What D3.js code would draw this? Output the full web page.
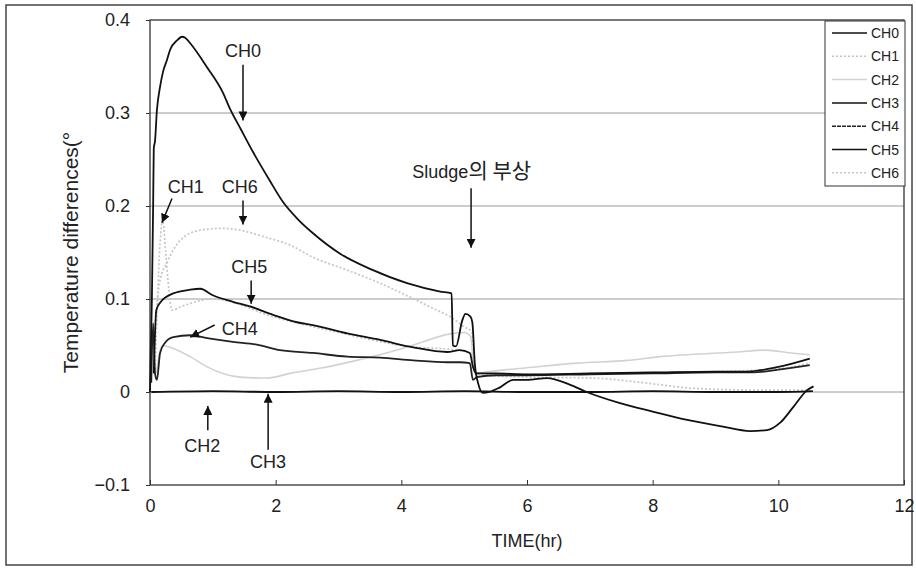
<!DOCTYPE html>
<html>
<head>
<meta charset="utf-8">
<script src="https://cdn.jsdelivr.net/npm/d3@7"></script>
<style>
  body { margin: 0; background: #fff; }
  text { font-family: "Liberation Sans", Arial, sans-serif; fill: #222; }
</style>
</head>
<body>
<div id="chart"></div>
<script>
// Channel names (legend order)
const channels = ["CH0", "CH1", "CH2", "CH3", "CH4", "CH5", "CH6"];

// Series values: [time (hr), temperature difference]
const ch0 = [[0,0],[0.03,0.1],[0.05,0.2],[0.06,0.262],[0.08,0.27],[0.11,0.303],[0.16,0.328],[0.21,0.345],[0.27,0.357],
  [0.32,0.368],[0.43,0.378],[0.51,0.382],[0.56,0.381],[0.64,0.375],[0.91,0.349],[1.16,0.322],[1.27,0.305],
  [1.45,0.282],[1.64,0.258],[1.9,0.228],[2.12,0.204],[2.35,0.186],[2.59,0.171],[3.02,0.149],[3.55,0.131],
  [4.09,0.117],[4.62,0.108],[4.8,0.106],
  [4.82,0.05],[4.87,0.049],[4.97,0.077],[5.02,0.084],[5.1,0.081],[5.13,0.075],[5.17,0.03],[5.22,0.01],
  [5.3,-0.001],[5.4,0],[5.57,0.005],[5.78,0.013],[6.0,0.013],[6.32,0.015],[6.68,0.008],[6.95,0],
  [7.48,-0.012],[8.0,-0.021],[8.55,-0.03],[9.1,-0.037],[9.55,-0.042],[9.82,-0.041],[10.03,-0.033],
  [10.24,-0.016],[10.46,0.002],[10.56,0.006]];
const ch1 = [[0.08,0.02],[0.12,0.1],[0.16,0.16],[0.2,0.185],[0.25,0.15],[0.3,0.11],[0.35,0.088],[0.5,0.092],
  [1.0,0.1],[2.0,0.08],[3.0,0.064],[4.0,0.05],[5.0,0.044],[5.12,0.04],[5.17,0.02],[6,0.019],[7,0.02],
  [8,0.021],[9,0.022],[10,0.025],[10.5,0.031]];
const ch2 = [[0.1,0.02],[0.2,0.05],[0.4,0.046],[0.64,0.038],[0.91,0.027],[1.43,0.016],[1.86,0.015],[2.23,0.02],
  [2.75,0.026],[3.29,0.034],[3.82,0.043],[4.35,0.054],[4.73,0.062],[5.0,0.064],[5.1,0.06],[5.17,0.02],
  [5.4,0.022],[6.0,0.026],[6.8,0.031],[7.59,0.034],[8.12,0.038],[9.34,0.043],[9.8,0.045],[10.2,0.042],[10.5,0.04]];
const ch3 = [[0.02,0],[1,0.001],[2,0],[3,0.001],[4,0],[5,0.001],[6,0],[7,0],[8,0.001],[9,0],[10,0],[10.55,0.001]];
const ch4 = [[0.02,0.01],[0.05,0.074],[0.08,0.02],[0.11,0.013],[0.16,0.042],[0.24,0.053],[0.37,0.059],[0.64,0.061],
  [0.91,0.058],[1.32,0.054],[1.7,0.051],[2.07,0.045],[2.59,0.042],[3.14,0.038],[3.66,0.037],[4.19,0.034],
  [4.73,0.032],[4.93,0.032],[5.09,0.031],[5.14,0.013],[5.2,0.016],[5.5,0.018],[6,0.018],[7,0.019],
  [8,0.02],[9,0.021],[9.6,0.021],[10,0.024],[10.5,0.029]];
const ch5 = [[0.06,0.02],[0.1,0.088],[0.16,0.096],[0.37,0.106],[0.64,0.11],[0.8,0.111],[1.0,0.104],[1.32,0.097],
  [1.59,0.092],[1.96,0.083],[2.34,0.075],[2.59,0.072],[3.14,0.063],[3.66,0.056],[4.19,0.048],[4.73,0.043],
  [4.93,0.045],[5.09,0.042],[5.14,0.027],[5.2,0.02],[5.5,0.02],[6,0.019],[7,0.02],[8,0.021],[9,0.022],
  [9.5,0.022],[10,0.027],[10.5,0.036]];
const ch6 = [[0.08,0.05],[0.12,0.1],[0.16,0.12],[0.27,0.139],[0.48,0.163],[0.8,0.174],[1.16,0.176],[1.43,0.174],
  [1.86,0.166],[2.23,0.158],[2.59,0.145],[3.14,0.131],[3.66,0.117],[4.14,0.102],[4.5,0.09],[4.8,0.08],
  [5.0,0.07],[5.12,0.065],[5.18,0.02],[5.3,0.018],[6.0,0.016],[7.05,0.015],[7.85,0.01],[8.64,0.004],
  [9.7,0.002],[10.5,0.002]];
const seriesValues = [ch0, ch1, ch2, ch3, ch4, ch5, ch6];

// Tick labels
const xTicks = [0, 2, 4, 6, 8, 10, 12];
const yTicks = [-0.1, 0, 0.1, 0.2, 0.3, 0.4];

// Annotation labels: [text, label x, label y, arrow from x, from y, to x, to y] in data units
const notes = [
  ["CH0", 1.48, 0.360, 1.48, 0.352, 1.48, 0.292],
  ["CH1", 0.57, 0.214, 0.35, 0.208, 0.19, 0.182],
  ["CH6", 1.43, 0.214, 1.48, 0.206, 1.48, 0.180],
  ["CH5", 1.58, 0.128, 1.61, 0.120, 1.61, 0.095],
  ["CH4", 1.43, 0.061, 1.03, 0.072, 0.64, 0.059],
  ["CH2", 0.83, -0.065, 0.92, -0.041, 0.92, -0.015],
  ["CH3", 1.88, -0.082, 1.88, -0.062, 1.88, -0.002]
];

// Styles per channel
const lineColor = {CH0: "#111", CH1: "#c4c4c4", CH2: "#d2d2d2", CH3: "#111", CH4: "#222", CH5: "#111", CH6: "#c8c8c8"};
const lineWidth = {CH0: 1.8, CH1: 1.6, CH2: 1.6, CH3: 1.8, CH4: 1.8, CH5: 1.8, CH6: 1.8};
const lineDash = {CH1: "2,2", CH6: "2,2"};

const width = 916, height = 568;
const marginTop = 20, marginRight = 12, marginBottom = 83, marginLeft = 150;

const x = d3.scaleLinear().domain([0, 12]).range([marginLeft, width - marginRight]);
const y = d3.scaleLinear().domain([-0.1, 0.4]).range([height - marginBottom, marginTop]);

const svg = d3.select("#chart").append("svg")
    .attr("width", width)
    .attr("height", height)
    .attr("viewBox", [0, 0, width, height]);

// arrow head
svg.append("defs").append("marker")
    .attr("id", "arrow")
    .attr("viewBox", "0 0 10 10")
    .attr("refX", 10).attr("refY", 5)
    .attr("markerWidth", 9).attr("markerHeight", 9)
    .attr("markerUnits", "userSpaceOnUse")
    .attr("orient", "auto")
  .append("path")
    .attr("d", "M0,0L10,5L0,10z")
    .attr("fill", "#111");

// outer frame
svg.append("rect")
    .attr("x", 6).attr("y", 5)
    .attr("width", width - 10).attr("height", height - 8)
    .attr("fill", "none").attr("stroke", "#444").attr("stroke-width", 1.5);

// gridlines
svg.append("g")
  .selectAll("line")
  .data(yTicks.filter(d => d > -0.1 && d < 0.4))
  .join("line")
    .attr("x1", x(0)).attr("x2", x(12))
    .attr("y1", d => y(d)).attr("y2", d => y(d))
    .attr("stroke", "#9a9a9a").attr("stroke-width", 1);

// plot frame
svg.append("rect")
    .attr("x", x(0)).attr("y", y(0.4))
    .attr("width", x(12) - x(0)).attr("height", y(-0.1) - y(0.4))
    .attr("fill", "none").attr("stroke", "#222").attr("stroke-width", 1.2);

// x axis (ticks inside, labels below)
svg.append("g")
    .attr("transform", `translate(0,${y(-0.1)})`)
    .call(d3.axisBottom(x).tickValues(xTicks).tickSizeInner(-5).tickSizeOuter(0).tickPadding(14).tickFormat(d3.format("d")))
    .call(g => g.select(".domain").remove())
    .call(g => g.selectAll(".tick line").attr("stroke", "#333"))
    .selectAll("text")
      .style("font-size", "18px")
      .style("font-family", "Liberation Sans, Arial, sans-serif")
      .attr("fill", "#222");

// y axis
svg.append("g")
    .attr("transform", `translate(${x(0)},0)`)
    .call(d3.axisLeft(y).tickValues(yTicks).tickSize(4).tickPadding(16)
      .tickFormat(d => d === 0 ? "0" : (d < 0 ? "\u2212" + Math.abs(d) : String(d))))
    .call(g => g.select(".domain").remove())
    .call(g => g.selectAll(".tick line").attr("stroke", "#333"))
    .selectAll("text")
      .style("font-size", "18px")
      .style("font-family", "Liberation Sans, Arial, sans-serif")
      .attr("fill", "#222");

// axis titles
svg.append("text")
    .attr("x", (x(0) + x(12)) / 2)
    .attr("y", 547)
    .attr("text-anchor", "middle")
    .style("font-size", "18px")
    .text("TIME(hr)");

svg.append("text")
    .attr("transform", `translate(78,${(y(0.4) + y(-0.1)) / 2}) rotate(-90)`)
    .attr("text-anchor", "middle")
    .style("font-size", "21px")
    .text("Temperature differences(\u00b0");

// series
const line = d3.line()
    .curve(d3.curveMonotoneX)
    .x(d => x(d[0]))
    .y(d => y(d[1]));

const plotOrder = ["CH2", "CH6", "CH1", "CH3", "CH4", "CH5", "CH0"];
svg.append("g")
    .attr("fill", "none")
    .attr("stroke-linejoin", "round")
  .selectAll("path")
  .data(plotOrder.map(c => ({name: c, values: seriesValues[channels.indexOf(c)]})))
  .join("path")
    .attr("d", d => line(d.values))
    .attr("stroke", d => lineColor[d.name])
    .attr("stroke-width", d => lineWidth[d.name])
    .attr("stroke-dasharray", d => lineDash[d.name] || null);

// annotations
const ann = svg.append("g");
ann.selectAll("text")
  .data(notes)
  .join("text")
    .attr("x", d => x(d[1]))
    .attr("y", d => y(d[2]))
    .attr("text-anchor", "middle")
    .style("font-size", "18px")
    .text(d => d[0]);
ann.selectAll("line")
  .data(notes)
  .join("line")
    .attr("x1", d => x(d[3])).attr("y1", d => y(d[4]))
    .attr("x2", d => x(d[5])).attr("y2", d => y(d[6]))
    .attr("stroke", "#111").attr("stroke-width", 1.5)
    .attr("marker-end", "url(#arrow)");

// sludge note
const sludge = ann.append("text")
    .attr("x", x(5.12))
    .attr("y", y(0.230))
    .attr("text-anchor", "middle")
    .style("font-size", "18px");
sludge.append("tspan").text("Sludge");
sludge.append("tspan")
    .style("font-family", "Noto Sans CJK KR, sans-serif")
    .style("font-size", "21px")
    .text("의 부상");
ann.append("line")
    .attr("x1", x(5.11)).attr("y1", y(0.219))
    .attr("x2", x(5.11)).attr("y2", y(0.155))
    .attr("stroke", "#111").attr("stroke-width", 1.5)
    .attr("marker-end", "url(#arrow)");

// legend
const legendX = 825, legendY = 21;
const legend = svg.append("g").attr("transform", `translate(${legendX},${legendY})`);
legend.append("rect")
    .attr("width", 80).attr("height", 165)
    .attr("fill", "#fff").attr("stroke", "#333").attr("stroke-width", 1);
const item = legend.selectAll("g")
  .data(channels)
  .join("g")
    .attr("transform", (d, i) => `translate(0,${12 + i * 23.3})`);
item.append("line")
    .attr("x1", 7).attr("x2", 42)
    .attr("stroke", d => lineColor[d])
    .attr("stroke-width", 1.5)
    .attr("stroke-dasharray", d => d === "CH4" ? "4,1" : (lineDash[d] || null));
item.append("text")
    .attr("x", 74)
    .attr("dy", "0.36em")
    .attr("text-anchor", "end")
    .style("font-size", "14px")
    .text(d => d);
</script>
</body>
</html>
